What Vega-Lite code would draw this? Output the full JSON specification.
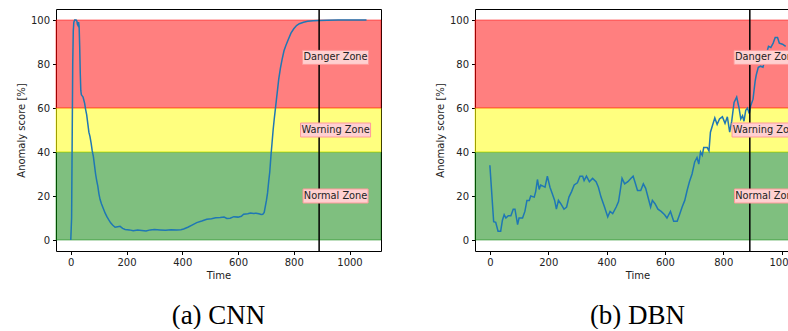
{
  "$schema": "https://vega.github.io/schema/vega-lite/v6.json",
  "padding": {"left": 15, "top": 7, "right": 0, "bottom": 0},
  "background": "white",
  "spacing": 52,
  "config": {
    "view": {"stroke": "black", "strokeWidth": 1},
    "axis": {"domain": false, "grid": false, "tickColor": "black", "tickSize": 3.5, "labelFont": "DejaVu Sans", "labelFontSize": 10, "labelColor": "#222", "titleFont": "DejaVu Sans", "titleFontSize": 10, "titleFontWeight": "normal", "titleColor": "#222", "labelPadding": 3},
    "title": {"font": "Liberation Serif", "fontSize": 27, "fontWeight": "normal", "color": "black", "orient": "bottom", "offset": 22}
  },
  "datasets": {
    "zones": [
      {"zone": "Normal", "lo": 0, "hi": 40},
      {"zone": "Warning", "lo": 40, "hi": 60},
      {"zone": "Danger", "lo": 60, "hi": 100}
    ],
    "labels": [
      {"label": "Danger Zone", "x": 950, "y": 83},
      {"label": "Warning Zone", "x": 950, "y": 50},
      {"label": "Normal Zone", "x": 950, "y": 20}
    ],
    "marker": [
      {"t": 891}
    ],
    "cnn": [
      {"t": 0, "v": 0}, {"t": 3, "v": 10}, {"t": 5, "v": 45}, {"t": 7, "v": 80}, {"t": 9, "v": 95}, {"t": 11, "v": 99}, {"t": 14, "v": 100}, {"t": 19, "v": 100}, {"t": 22, "v": 99.5}, {"t": 24, "v": 98}, {"t": 26, "v": 97.5}, {"t": 28, "v": 99}, {"t": 30, "v": 97}, {"t": 32, "v": 88}, {"t": 34, "v": 76}, {"t": 36, "v": 68}, {"t": 38, "v": 66}, {"t": 41, "v": 65.5}, {"t": 44, "v": 65}, {"t": 47, "v": 63.5}, {"t": 50, "v": 62}, {"t": 53, "v": 59.5}, {"t": 57, "v": 57}, {"t": 61, "v": 53}, {"t": 65, "v": 49}, {"t": 69, "v": 47}, {"t": 73, "v": 44}, {"t": 77, "v": 40.5}, {"t": 81, "v": 38}, {"t": 85, "v": 34}, {"t": 89, "v": 30}, {"t": 93, "v": 27}, {"t": 97, "v": 24.5}, {"t": 101, "v": 21}, {"t": 105, "v": 18.5}, {"t": 110, "v": 16.5}, {"t": 116, "v": 14.5}, {"t": 123, "v": 12.3}, {"t": 130, "v": 10.5}, {"t": 137, "v": 9}, {"t": 143, "v": 7.8}, {"t": 150, "v": 6.8}, {"t": 159, "v": 5.8}, {"t": 168, "v": 6}, {"t": 177, "v": 6.2}, {"t": 186, "v": 5.3}, {"t": 195, "v": 4.8}, {"t": 210, "v": 4.6}, {"t": 224, "v": 4.2}, {"t": 240, "v": 4.5}, {"t": 255, "v": 4.3}, {"t": 270, "v": 4.1}, {"t": 285, "v": 4.6}, {"t": 300, "v": 4.8}, {"t": 320, "v": 4.6}, {"t": 340, "v": 4.4}, {"t": 360, "v": 4.7}, {"t": 380, "v": 4.5}, {"t": 395, "v": 4.7}, {"t": 405, "v": 5}, {"t": 420, "v": 5.8}, {"t": 435, "v": 6.8}, {"t": 452, "v": 7.9}, {"t": 470, "v": 8.6}, {"t": 488, "v": 9.4}, {"t": 505, "v": 9.7}, {"t": 520, "v": 10.1}, {"t": 536, "v": 10.2}, {"t": 550, "v": 10.4}, {"t": 560, "v": 9.8}, {"t": 572, "v": 9.9}, {"t": 585, "v": 10.6}, {"t": 600, "v": 10.4}, {"t": 612, "v": 10.8}, {"t": 620, "v": 11.7}, {"t": 635, "v": 11.9}, {"t": 645, "v": 12.3}, {"t": 656, "v": 12.1}, {"t": 665, "v": 12.2}, {"t": 675, "v": 11.9}, {"t": 683, "v": 11.6}, {"t": 689, "v": 11.7}, {"t": 694, "v": 12.5}, {"t": 698, "v": 15.3}, {"t": 702, "v": 18}, {"t": 706, "v": 21.4}, {"t": 710, "v": 26.5}, {"t": 714, "v": 31}, {"t": 718, "v": 38}, {"t": 722, "v": 44}, {"t": 726, "v": 50}, {"t": 730, "v": 55}, {"t": 734, "v": 59.5}, {"t": 738, "v": 64}, {"t": 742, "v": 68.5}, {"t": 746, "v": 73}, {"t": 752, "v": 78}, {"t": 758, "v": 82}, {"t": 765, "v": 86}, {"t": 772, "v": 88.5}, {"t": 780, "v": 91}, {"t": 790, "v": 94}, {"t": 800, "v": 96}, {"t": 810, "v": 97.5}, {"t": 820, "v": 98.3}, {"t": 835, "v": 99}, {"t": 850, "v": 99.4}, {"t": 870, "v": 99.7}, {"t": 890, "v": 99.8}, {"t": 920, "v": 99.9}, {"t": 960, "v": 100}, {"t": 1000, "v": 100}, {"t": 1061, "v": 100}
    ],
    "dbn": [
      {"t": 0, "v": 34}, {"t": 13, "v": 8.3}, {"t": 20, "v": 8}, {"t": 28, "v": 4}, {"t": 37, "v": 4}, {"t": 43, "v": 9}, {"t": 49, "v": 11.5}, {"t": 55, "v": 10}, {"t": 63, "v": 11}, {"t": 72, "v": 11}, {"t": 80, "v": 14}, {"t": 86, "v": 14}, {"t": 95, "v": 7}, {"t": 100, "v": 10}, {"t": 112, "v": 10}, {"t": 120, "v": 13}, {"t": 127, "v": 18}, {"t": 135, "v": 18}, {"t": 140, "v": 20}, {"t": 152, "v": 19.5}, {"t": 157, "v": 22}, {"t": 163, "v": 27.5}, {"t": 169, "v": 23}, {"t": 174, "v": 25}, {"t": 182, "v": 24.5}, {"t": 189, "v": 24}, {"t": 197, "v": 29}, {"t": 206, "v": 24}, {"t": 214, "v": 21}, {"t": 222, "v": 18}, {"t": 228, "v": 14}, {"t": 235, "v": 18}, {"t": 243, "v": 16.5}, {"t": 254, "v": 14}, {"t": 263, "v": 15}, {"t": 271, "v": 19.5}, {"t": 280, "v": 22}, {"t": 289, "v": 25}, {"t": 300, "v": 26}, {"t": 309, "v": 29}, {"t": 318, "v": 29}, {"t": 323, "v": 27}, {"t": 331, "v": 29}, {"t": 341, "v": 26.5}, {"t": 352, "v": 28}, {"t": 364, "v": 26.5}, {"t": 372, "v": 24}, {"t": 381, "v": 19.5}, {"t": 393, "v": 15}, {"t": 404, "v": 10.5}, {"t": 412, "v": 13}, {"t": 421, "v": 12}, {"t": 433, "v": 15}, {"t": 441, "v": 17.5}, {"t": 448, "v": 23.5}, {"t": 453, "v": 28}, {"t": 462, "v": 25.5}, {"t": 473, "v": 26.5}, {"t": 483, "v": 28}, {"t": 491, "v": 29}, {"t": 497, "v": 26.5}, {"t": 506, "v": 22.5}, {"t": 517, "v": 22.5}, {"t": 526, "v": 25.5}, {"t": 534, "v": 23.5}, {"t": 543, "v": 19}, {"t": 551, "v": 15}, {"t": 557, "v": 18}, {"t": 566, "v": 16.5}, {"t": 576, "v": 14}, {"t": 587, "v": 13}, {"t": 599, "v": 11.5}, {"t": 607, "v": 10}, {"t": 619, "v": 13}, {"t": 630, "v": 8.5}, {"t": 642, "v": 8.5}, {"t": 650, "v": 11.5}, {"t": 659, "v": 15}, {"t": 668, "v": 18}, {"t": 676, "v": 22.5}, {"t": 684, "v": 26.5}, {"t": 693, "v": 30}, {"t": 702, "v": 35.5}, {"t": 710, "v": 37.5}, {"t": 716, "v": 34.5}, {"t": 722, "v": 40}, {"t": 728, "v": 38.5}, {"t": 733, "v": 42}, {"t": 745, "v": 42}, {"t": 751, "v": 40.5}, {"t": 756, "v": 49}, {"t": 764, "v": 52.5}, {"t": 771, "v": 55.5}, {"t": 779, "v": 52.5}, {"t": 787, "v": 55}, {"t": 797, "v": 56}, {"t": 806, "v": 53}, {"t": 814, "v": 56}, {"t": 822, "v": 49}, {"t": 829, "v": 54}, {"t": 837, "v": 62.5}, {"t": 846, "v": 65}, {"t": 854, "v": 60}, {"t": 860, "v": 55}, {"t": 866, "v": 56.5}, {"t": 871, "v": 54}, {"t": 877, "v": 59}, {"t": 883, "v": 60}, {"t": 889, "v": 57.5}, {"t": 894, "v": 61}, {"t": 902, "v": 64}, {"t": 909, "v": 72}, {"t": 913, "v": 75}, {"t": 920, "v": 78.5}, {"t": 928, "v": 79}, {"t": 936, "v": 78.5}, {"t": 946, "v": 83.5}, {"t": 955, "v": 88}, {"t": 963, "v": 87.5}, {"t": 971, "v": 89.5}, {"t": 978, "v": 92}, {"t": 986, "v": 92}, {"t": 992, "v": 89.5}, {"t": 1003, "v": 89}, {"t": 1014, "v": 88}
    ]
  },
  "hconcat": [
    {
      "width": 325, "height": 242,
      "title": {"text": "(a)  CNN"},
      "layer": [
        {
          "data": {"name": "zones"},
          "mark": {"type": "rect", "fillOpacity": 0.5, "strokeOpacity": 0.5, "strokeWidth": 1},
          "encoding": {
            "y": {"field": "lo", "type": "quantitative", "scale": {"domain": [-5, 105], "nice": false, "zero": false}, "axis": {"values": [0, 20, 40, 60, 80, 100], "title": "Anomaly score [%]", "titlePadding": 4}},
            "y2": {"field": "hi"},
            "fill": {"field": "zone", "type": "nominal", "scale": {"domain": ["Normal", "Warning", "Danger"], "range": ["#008000", "#ffff00", "#ff0000"]}, "legend": null},
            "stroke": {"field": "zone", "type": "nominal", "scale": {"domain": ["Normal", "Warning", "Danger"], "range": ["#008000", "#ffff00", "#ff0000"]}, "legend": null}
          }
        },
        {
          "data": {"name": "cnn"},
          "mark": {"type": "line", "color": "#1f77b4", "strokeWidth": 1.5},
          "encoding": {
            "x": {"field": "t", "type": "quantitative", "scale": {"domain": [-53, 1113], "nice": false, "zero": false}, "axis": {"values": [0, 200, 400, 600, 800, 1000], "format": "d", "title": "Time", "titlePadding": 3}},
            "y": {"field": "v", "type": "quantitative"}
          }
        },
        {
          "data": {"name": "marker"},
          "mark": {"type": "rule", "color": "black", "strokeWidth": 1.5},
          "encoding": {"x": {"field": "t", "type": "quantitative"}}
        },
        {
          "data": {"name": "labels"},
          "transform": [{"filter": "datum.label == 'Danger Zone'"}],
          "mark": {"type": "rect", "width": 66, "height": 14, "fill": "#ffd0d0", "stroke": "#ff9a9a", "strokeWidth": 1},
          "encoding": {"x": {"field": "x", "type": "quantitative"}, "y": {"field": "y", "type": "quantitative"}}
        },
        {
          "data": {"name": "labels"},
          "transform": [{"filter": "datum.label == 'Warning Zone'"}],
          "mark": {"type": "rect", "width": 70, "height": 14, "fill": "#ffd0d0", "stroke": "#ff9a9a", "strokeWidth": 1},
          "encoding": {"x": {"field": "x", "type": "quantitative"}, "y": {"field": "y", "type": "quantitative"}}
        },
        {
          "data": {"name": "labels"},
          "transform": [{"filter": "datum.label == 'Normal Zone'"}],
          "mark": {"type": "rect", "width": 65, "height": 14, "fill": "#ffd0d0", "stroke": "#ff9a9a", "strokeWidth": 1},
          "encoding": {"x": {"field": "x", "type": "quantitative"}, "y": {"field": "y", "type": "quantitative"}}
        },
        {
          "data": {"name": "labels"},
          "mark": {"type": "text", "font": "DejaVu Sans", "fontSize": 9.8, "color": "#222", "align": "center", "baseline": "middle"},
          "encoding": {"x": {"field": "x", "type": "quantitative"}, "y": {"field": "y", "type": "quantitative"}, "text": {"field": "label"}}
        }
      ]
    },
    {
      "width": 325, "height": 242,
      "title": {"text": "(b)  DBN"},
      "layer": [
        {
          "data": {"name": "zones"},
          "mark": {"type": "rect", "fillOpacity": 0.5, "strokeOpacity": 0.5, "strokeWidth": 1},
          "encoding": {
            "y": {"field": "lo", "type": "quantitative", "scale": {"domain": [-5, 105], "nice": false, "zero": false}, "axis": {"values": [0, 20, 40, 60, 80, 100], "title": "Anomaly score [%]", "titlePadding": 4}},
            "y2": {"field": "hi"},
            "fill": {"field": "zone", "type": "nominal", "scale": {"domain": ["Normal", "Warning", "Danger"], "range": ["#008000", "#ffff00", "#ff0000"]}, "legend": null},
            "stroke": {"field": "zone", "type": "nominal", "scale": {"domain": ["Normal", "Warning", "Danger"], "range": ["#008000", "#ffff00", "#ff0000"]}, "legend": null}
          }
        },
        {
          "data": {"name": "dbn"},
          "mark": {"type": "line", "color": "#1f77b4", "strokeWidth": 1.5},
          "encoding": {
            "x": {"field": "t", "type": "quantitative", "scale": {"domain": [-51, 1063], "nice": false, "zero": false}, "axis": {"values": [0, 200, 400, 600, 800, 1000], "format": "d", "title": "Time", "titlePadding": 3}},
            "y": {"field": "v", "type": "quantitative"}
          }
        },
        {
          "data": {"name": "marker"},
          "mark": {"type": "rule", "color": "black", "strokeWidth": 1.5},
          "encoding": {"x": {"field": "t", "type": "quantitative"}}
        },
        {
          "data": {"name": "labels"},
          "transform": [{"filter": "datum.label == 'Danger Zone'"}],
          "mark": {"type": "rect", "width": 66, "height": 14, "fill": "#ffd0d0", "stroke": "#ff9a9a", "strokeWidth": 1},
          "encoding": {"x": {"field": "x", "type": "quantitative"}, "y": {"field": "y", "type": "quantitative"}}
        },
        {
          "data": {"name": "labels"},
          "transform": [{"filter": "datum.label == 'Warning Zone'"}],
          "mark": {"type": "rect", "width": 70, "height": 14, "fill": "#ffd0d0", "stroke": "#ff9a9a", "strokeWidth": 1},
          "encoding": {"x": {"field": "x", "type": "quantitative"}, "y": {"field": "y", "type": "quantitative"}}
        },
        {
          "data": {"name": "labels"},
          "transform": [{"filter": "datum.label == 'Normal Zone'"}],
          "mark": {"type": "rect", "width": 65, "height": 14, "fill": "#ffd0d0", "stroke": "#ff9a9a", "strokeWidth": 1},
          "encoding": {"x": {"field": "x", "type": "quantitative"}, "y": {"field": "y", "type": "quantitative"}}
        },
        {
          "data": {"name": "labels"},
          "mark": {"type": "text", "font": "DejaVu Sans", "fontSize": 9.8, "color": "#222", "align": "center", "baseline": "middle"},
          "encoding": {"x": {"field": "x", "type": "quantitative"}, "y": {"field": "y", "type": "quantitative"}, "text": {"field": "label"}}
        }
      ]
    }
  ]
}
